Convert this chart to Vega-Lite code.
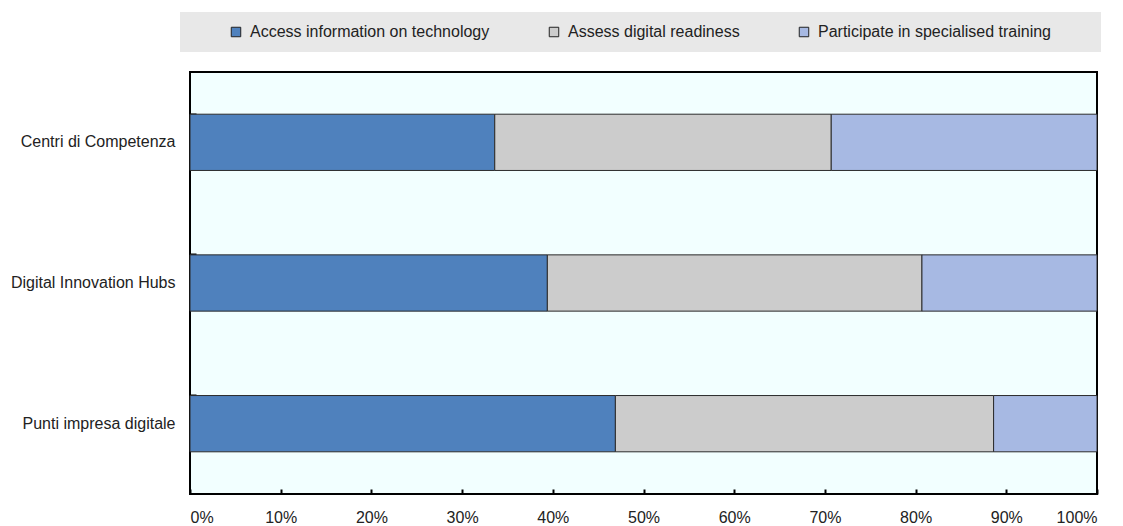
{
  "$schema": "https://vega.github.io/schema/vega-lite/v6.json",
  "width": 907,
  "height": 422,
  "autosize": "none",
  "padding": {"left": 190, "top": 72, "right": 26, "bottom": 32},
  "background": "white",
  "data": {
    "values": [
      {"category": "Centri di Competenza", "series": "Access information on technology", "order": 1, "value": 33.6},
      {"category": "Centri di Competenza", "series": "Assess digital readiness", "order": 2, "value": 37.1},
      {"category": "Centri di Competenza", "series": "Participate in specialised training", "order": 3, "value": 29.3},
      {"category": "Digital Innovation Hubs", "series": "Access information on technology", "order": 1, "value": 39.4},
      {"category": "Digital Innovation Hubs", "series": "Assess digital readiness", "order": 2, "value": 41.3},
      {"category": "Digital Innovation Hubs", "series": "Participate in specialised training", "order": 3, "value": 19.3},
      {"category": "Punti impresa digitale", "series": "Access information on technology", "order": 1, "value": 46.9},
      {"category": "Punti impresa digitale", "series": "Assess digital readiness", "order": 2, "value": 41.7},
      {"category": "Punti impresa digitale", "series": "Participate in specialised training", "order": 3, "value": 11.4}
    ]
  },
  "mark": {"type": "bar", "stroke": "#2b2b2b", "strokeWidth": 1},
  "encoding": {
    "y": {
      "field": "category",
      "type": "nominal",
      "sort": ["Centri di Competenza", "Digital Innovation Hubs", "Punti impresa digitale"],
      "scale": {"paddingInner": 0.6, "paddingOuter": 0.3},
      "axis": {
        "title": null,
        "bandPosition": 0,
        "domain": false,
        "grid": false,
        "ticks": true,
        "tickSize": -6,
        "tickColor": "#000",
        "tickWidth": 2,
        "labelPadding": 21,
        "labelFont": "Liberation Sans",
        "labelFontSize": 16,
        "labelColor": "#222",
        "labelLimit": 300
      }
    },
    "x": {
      "field": "value",
      "type": "quantitative",
      "stack": "zero",
      "scale": {"domain": [0, 100], "nice": false},
      "axis": {
        "title": null,
        "values": [0, 10, 20, 30, 40, 50, 60, 70, 80, 90, 100],
        "labelExpr": "datum.value + '%'",
        "domain": false,
        "grid": false,
        "ticks": true,
        "tickSize": -5,
        "tickColor": "#000",
        "tickWidth": 2,
        "labelPadding": 20,
        "labelFont": "Liberation Sans",
        "labelFontSize": 16,
        "labelColor": "#222"
      }
    },
    "color": {
      "field": "series",
      "type": "nominal",
      "scale": {
        "domain": ["Access information on technology", "Assess digital readiness", "Participate in specialised training"],
        "range": ["#4f81bd", "#cccccc", "#a7b9e3"]
      },
      "legend": {
        "orient": "none",
        "legendX": -10,
        "legendY": -60,
        "direction": "horizontal",
        "title": " ",
        "titleOrient": "right",
        "titlePadding": 38,
        "gridAlign": "each",
        "columnPadding": 20,
        "fillColor": "#e8e8e8",
        "padding": 12,
        "symbolOffset": 36,
        "symbolType": "square",
        "symbolSize": 90,
        "symbolStrokeColor": "#222",
        "symbolStrokeWidth": 1,
        "symbolOpacity": 1,
        "labelFont": "Liberation Sans",
        "labelFontSize": 16,
        "labelColor": "#222",
        "labelOffset": 6,
        "labelLimit": 400
      }
    },
    "order": {"field": "order", "type": "quantitative"}
  },
  "config": {
    "view": {"fill": "#f2ffff", "stroke": "#000", "strokeWidth": 2}
  }
}
